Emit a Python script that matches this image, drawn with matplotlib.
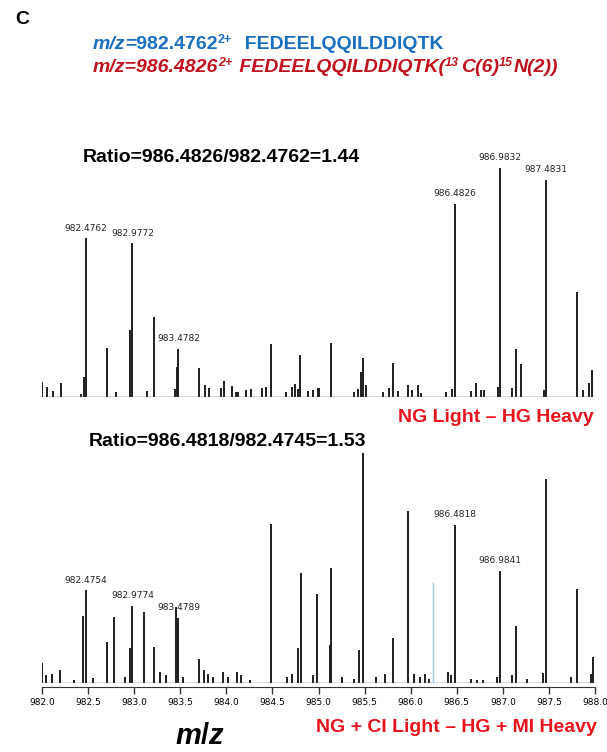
import matplotlib
matplotlib.use('Agg')
import matplotlib.pyplot as plt
from matplotlib import font_manager
from matplotlib.ticker import MultipleLocator, FormatStrFormatter

# ## Data (m/z, relative intensity in % of the tallest peak)
top_mz = [982.00, 982.05, 982.12, 982.21, 982.42, 982.46, 982.48, 982.71, 982.80, 982.96,
          982.98, 983.14, 983.21, 983.44, 983.46, 983.48, 983.70, 983.77, 983.81, 983.94,
          983.98, 984.06, 984.10, 984.13, 984.21, 984.27, 984.39, 984.43, 984.48, 984.65,
          984.71, 984.75, 984.78, 984.80, 984.89, 984.94, 984.99, 985.01, 985.14, 985.38,
          985.43, 985.46, 985.48, 985.51, 985.70, 985.77, 985.81, 985.86, 985.97, 986.01,
          986.08, 986.11, 986.38, 986.45, 986.48, 986.66, 986.71, 986.76, 986.80, 986.95,
          986.97, 987.10, 987.14, 987.20, 987.45, 987.47, 987.80, 987.87, 987.93, 987.97]
top_int = [6.6, 4.4, 2.6, 6.1, 1.3, 8.7, 69.4, 21.4, 2.2, 29.3,
           67.2, 2.6, 34.9, 3.5, 13.1, 21.0, 12.7, 5.2, 3.9, 3.9,
           7.0, 4.8, 2.2, 2.2, 3.1, 3.5, 3.9, 4.4, 23.1, 2.2,
           4.4, 5.7, 3.5, 18.3, 2.6, 3.1, 3.9, 3.9, 23.6, 2.2,
           3.5, 10.9, 17.0, 5.2, 2.2, 3.9, 14.8, 2.6, 5.2, 3.1,
           5.2, 1.7, 2.2, 3.5, 84.3, 2.6, 6.1, 3.1, 3.1, 4.4,
           100.0, 3.9, 21.0, 14.4, 3.1, 94.8, 45.9, 3.1, 6.1, 11.8]

bot_mz = [982.00, 982.04, 982.11, 982.20, 982.35, 982.45, 982.48, 982.55, 982.71, 982.78,
          982.90, 982.96, 982.98, 983.11, 983.21, 983.28, 983.34, 983.45, 983.48, 983.53,
          983.70, 983.76, 983.80, 983.86, 983.96, 984.02, 984.12, 984.16, 984.26, 984.48,
          984.66, 984.71, 984.78, 984.81, 984.94, 984.98, 985.12, 985.14, 985.26, 985.38,
          985.44, 985.48, 985.62, 985.72, 985.81, 985.97, 986.04, 986.10, 986.16, 986.20,
          986.40, 986.44, 986.48, 986.66, 986.72, 986.78, 986.94, 986.97, 987.10, 987.14,
          987.26, 987.44, 987.47, 987.74, 987.80, 987.96, 987.98]
bot_int = [8.7, 3.5, 3.9, 5.7, 1.3, 29.1, 40.4, 2.2, 17.8, 28.7,
           2.6, 15.2, 33.5, 30.9, 15.7, 4.8, 3.5, 33.0, 28.3, 2.6,
           10.4, 5.7, 3.9, 2.6, 4.8, 2.6, 4.8, 3.5, 1.3, 69.1,
           2.6, 3.9, 15.2, 47.8, 3.5, 38.7, 16.5, 50.0, 2.6, 1.7,
           14.3, 100.0, 2.6, 3.9, 19.6, 74.8, 3.9, 2.6, 3.9, 1.7,
           4.8, 3.5, 68.7, 1.7, 1.3, 1.3, 2.6, 48.7, 3.5, 24.8,
           1.7, 4.3, 88.7, 2.6, 40.9, 3.9, 11.3]

# marker line (light blue) in the lower spectrum
cursor_mz = 986.24
cursor_int = 43.9

# labelled peaks: label text, m/z position of the peak it sits on, intensity of that peak
top_labels = ['982.4762', '982.9772', '983.4782', '986.4826', '986.9832', '987.4831']
top_label_mz = [982.48, 982.98, 983.48, 986.48, 986.97, 987.47]
top_label_int = [69.4, 67.2, 21.0, 84.3, 100.0, 94.8]

bot_labels = ['982.4754', '982.9774', '983.4789', '986.4818', '986.9841']
bot_label_mz = [982.48, 982.98, 983.48, 986.48, 986.97]
bot_label_int = [40.4, 33.5, 28.3, 68.7, 48.7]

# header pieces: (text, is_superscript)
header_light = [('=982.4762', False), ('2+', True), ('  FEDEELQQILDDIQTK', False)]
header_heavy = [('m/z=986.4826', False), ('2+', True), (' FEDEELQQILDDIQTK(', False),
                ('13', True), ('C(6)', False), ('15', True), ('N(2))', False)]
ratio_top = 'Ratio=986.4826/982.4762=1.44'
ratio_bot = 'Ratio=986.4818/982.4745=1.53'
cond_top = 'NG Light \u2013 HG Heavy'
cond_bot = 'NG + CI Light \u2013 HG + MI Heavy'

# ## Fonts
names = {f.name for f in font_manager.fontManager.ttflist}
narrow = 'Liberation Sans Narrow' if 'Liberation Sans Narrow' in names else 'DejaVu Sans'
plt.rcParams['font.family'] = ['Liberation Sans', 'DejaVu Sans']
plt.rcParams['mathtext.fontset'] = 'custom'
plt.rcParams['mathtext.rm'] = 'Liberation Sans:bold'
plt.rcParams['mathtext.bf'] = 'Liberation Sans:bold'
plt.rcParams['mathtext.it'] = 'Liberation Sans:bold:italic'

blue = '#1b6fc0'
dark_red = '#c0121c'
red = '#e8141c'
peak_col = '#1e1e1e'

W, H = 607, 752
fig = plt.figure(figsize=(W / 100, H / 100), dpi=100)
renderer = fig.canvas.get_renderer()


def axes_px(left, bottom_y, right, top_y):
    # pixel box (y measured from the top) -> figure fractions
    return [left / W, (H - bottom_y) / H, (right - left) / W, (bottom_y - top_y) / H]


ax1 = fig.add_axes(axes_px(42, 397, 595, 168))
ax2 = fig.add_axes(axes_px(42, 683, 595, 453))

for ax, mz, inten in [(ax1, top_mz, top_int), (ax2, bot_mz, bot_int)]:
    ax.vlines(mz, 0, inten, color=peak_col, linewidth=1.4)
    ax.set_xlim(982.0, 988.0)
    ax.set_ylim(0, 100)
    for s in ['top', 'left', 'right']:
        ax.spines[s].set_visible(False)
    ax.set_yticks([])
    ax.axhline(0, color='#555555', linewidth=1.0)

ax2.vlines([cursor_mz], 0, [cursor_int], color='#a8c8ec', linewidth=1.0)

# top panel: only a baseline
ax1.spines['bottom'].set_visible(False)
ax1.set_xticks([])

# bottom panel: m/z axis
ax2.spines['bottom'].set_position(('outward', 3))
ax2.spines['bottom'].set_color('#333333')
ax2.xaxis.set_major_locator(MultipleLocator(0.5))
ax2.xaxis.set_major_formatter(FormatStrFormatter('%.1f'))
ax2.tick_params(axis='x', length=5, width=1.0, color='#333333', pad=3)
for lab in ax2.get_xticklabels():
    lab.set_fontfamily(narrow)
    lab.set_fontsize(6.5)

for ax, labels, lmz, lint in [(ax1, top_labels, top_label_mz, top_label_int),
                              (ax2, bot_labels, bot_label_mz, bot_label_int)]:
    for t, x, y in zip(labels, lmz, lint):
        ax.annotate(t, (x, y), xytext=(0, 4), textcoords='offset points',
                    ha='center', va='bottom', fontsize=6.5, family=narrow, color='#222222')


# ## Texts
def fig_text(x, y, s, **kw):
    return fig.text(x / W, 1 - y / H, s, **kw)


def text_runs(x, y_base, runs, size=14, sup_size=9, **kw):
    # draw text pieces one after another, superscripts raised
    for s, sup in runs:
        t = fig_text(x, y_base - (6 if sup else 0), s, fontsize=sup_size if sup else size,
                     va='baseline', ha='left', **kw)
        x += t.get_window_extent(renderer).width + (1.5 if sup else 0)
    return x


fig_text(15, 20, 'C', fontsize=14, fontweight='bold', va='center', ha='left')

x0 = fig_text(93, 49, 'm/z', fontsize=14, fontweight='bold', fontstyle='italic', color=blue,
              va='baseline', ha='left').get_window_extent(renderer).x1
text_runs(x0, 49, header_light, fontweight='bold', color=blue)
text_runs(93, 72, header_heavy, fontweight='bold', fontstyle='italic', color=dark_red)

fig_text(83, 157, ratio_top, fontsize=14, fontweight='bold', va='center', ha='left')
fig_text(89, 442, ratio_bot, fontsize=14, fontweight='bold', va='center', ha='left')

fig_text(594, 417, cond_top, fontsize=14, fontweight='bold', color=red, va='center', ha='right')
fig_text(597, 727, cond_bot, fontsize=14, fontweight='bold', color=red, va='center', ha='right')

fig_text(200, 736, r'$\it{m/z}$', fontsize=21, va='center', ha='center')

fig.savefig('out.png', dpi=100)
